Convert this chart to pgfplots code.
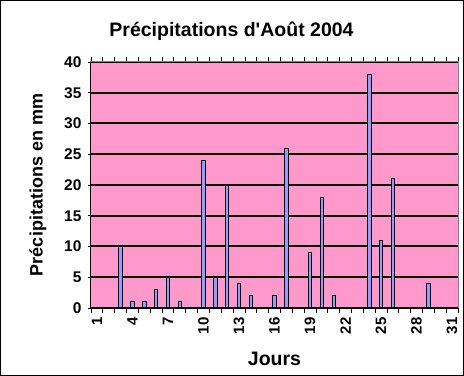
\documentclass[border=0pt]{standalone}
\usepackage{pgfplots}
\pgfplotsset{compat=1.18}
\usepackage{fontspec}
\setmainfont{Liberation Sans}
\definecolor{plotbg}{HTML}{FF99CC}
\definecolor{barfill}{HTML}{9999FF}
\begin{document}
\begin{tikzpicture}
\begin{axis}[
  name=ax,
  at={(0,0)}, anchor=south west,
  scale only axis,
  width=367pt, height=246pt,
  xmin=0.5, xmax=31.5,
  ymin=0, ymax=40,
  ytick={0,5,...,40},
  xtick={1,4,...,31},
  minor xtick={0.5,1.5,...,31.5},
  major tick length=0pt,
  minor tick length=5pt,
  ytick style={draw=none},
  axis background/.style={fill=plotbg},
  axis line style={draw=gray, line width=1pt},
  ymajorgrids,
  grid style={black, line width=2pt},
  minor x tick style={black, line width=0.8pt},
  tick align=outside,
  xticklabel style={rotate=90, anchor=east, font=\fontsize{15}{15}\selectfont\bfseries, yshift=0pt, xshift=-6pt},
  yticklabel style={font=\fontsize{15.5}{15.5}\selectfont\bfseries, xshift=-6pt},
  /pgf/number format/assume math mode=true,
  xlabel={Jours},
  xlabel style={font=\fontsize{19.5}{19.5}\selectfont\bfseries, yshift=-11pt},
  ylabel={Précipitations en mm},
  ylabel style={font=\fontsize{18}{18}\selectfont\bfseries, yshift=11pt},
  ybar, bar width=3.5pt,
  clip=false,
]
\addplot[fill=barfill, draw=black, line width=0.8pt] coordinates {
(3,10) (4,1) (5,1) (6,3) (7,5) (8,1) (10,24) (11,5) (12,20) (13,4) (14,2)
(16,2) (17,26) (19,9) (20,18) (21,2) (24,38) (25,11) (26,21) (29,4)
};
\end{axis}
\begin{axis}[
  at={(0,0)}, anchor=south west,
  scale only axis,
  width=367pt, height=246pt,
  xmin=0.5, xmax=31.5, ymin=0, ymax=40,
  ytick={0,5,...,40}, xtick=\empty, yticklabels={},
  major tick length=5pt, tick align=outside,
  ytick style={black, line width=0.8pt},
  axis lines=left, axis line style={-, draw=black, line width=1pt},
]
\end{axis}
\draw[black, line width=1pt] ([shift={(-90.5pt,-67.5pt)}]ax.south west) rectangle ([shift={(5.5pt,61.5pt)}]ax.north east);
\node[font=\fontsize{19.5}{19.5}\selectfont\bfseries, anchor=center] at ([shift={(-90.5pt,61.5pt)}]ax.north west) [xshift=231pt, yshift=-31pt] {Précipitations d\textquotesingle Août 2004};
\end{tikzpicture}
\end{document}
